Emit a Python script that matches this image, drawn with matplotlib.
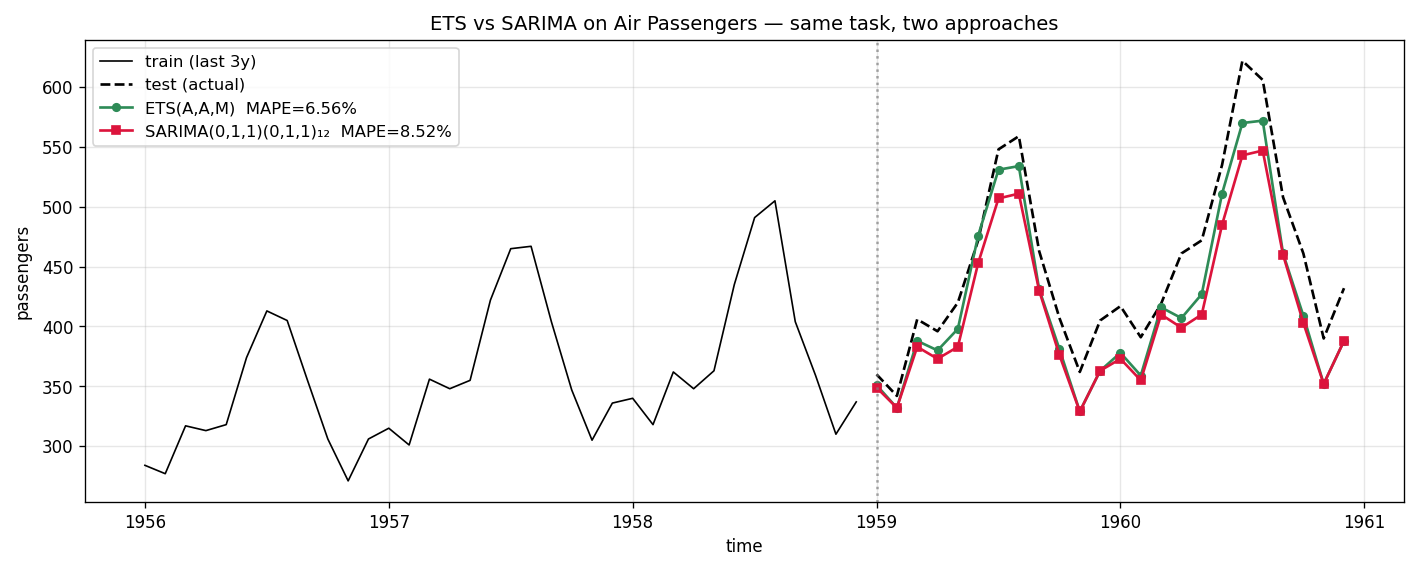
import numpy as np
from matplotlib import pyplot as plt

# monthly air passengers, last 3 years of training + 2 test years
train = [284, 277, 317, 313, 318, 374, 413, 405, 355, 306, 271, 306,
         315, 301, 356, 348, 355, 422, 465, 467, 404, 347, 305, 336,
         340, 318, 362, 348, 363, 435, 491, 505, 404, 359, 310, 337]
test = [360, 342, 406, 396, 420, 472, 548, 559, 463, 407, 362, 405,
        417, 391, 419, 461, 472, 535, 622, 606, 508, 461, 390, 432]
ets = [351, 332, 388, 380, 398, 476, 531, 534, 431, 381, 329, 363,
       378, 359, 416, 407, 427, 511, 570, 572, 461, 409, 352, 388]
sarima = [349, 332, 383, 373, 383, 453, 507, 511, 430, 376, 329, 363,
          373, 355, 410, 399, 410, 485, 543, 547, 460, 403, 352, 388]
ets_mape = 6.56
sarima_mape = 8.52

t_train = 1956 + np.arange(len(train)) / 12
t_test = 1959 + np.arange(len(test)) / 12

fig = plt.figure(figsize=(11.8, 4.76), dpi=120)
ax = fig.add_axes([0.060, 0.121, 0.9315, 0.809])

ax.plot(t_train, train, color='black', lw=1, label='train (last 3y)')
ax.plot(t_test, test, color='black', ls='--', lw=1.6, label='test (actual)')
ax.plot(t_test, ets, color='seagreen', marker='o', ms=4.5, lw=1.6,
        label='ETS(A,A,M)  MAPE=%.2f%%' % ets_mape)
ax.plot(t_test, sarima, color='crimson', marker='s', ms=5.2, lw=1.6,
        label='SARIMA(0,1,1)(0,1,1)\u2081\u2082  MAPE=%.2f%%' % sarima_mape)
ax.axvline(1959, color='gray', ls=':', lw=1.5, alpha=0.7)

ax.set_xticks([1956, 1957, 1958, 1959, 1960, 1961])
ax.grid(alpha=0.3)
ax.set_xlabel('time')
ax.set_ylabel('passengers', labelpad=6)
ax.set_title('ETS vs SARIMA on Air Passengers \u2014 same task, two approaches',
             fontsize=11.8)
ax.legend(loc='upper left', fontsize=9.8)

fig.savefig('out.png')
